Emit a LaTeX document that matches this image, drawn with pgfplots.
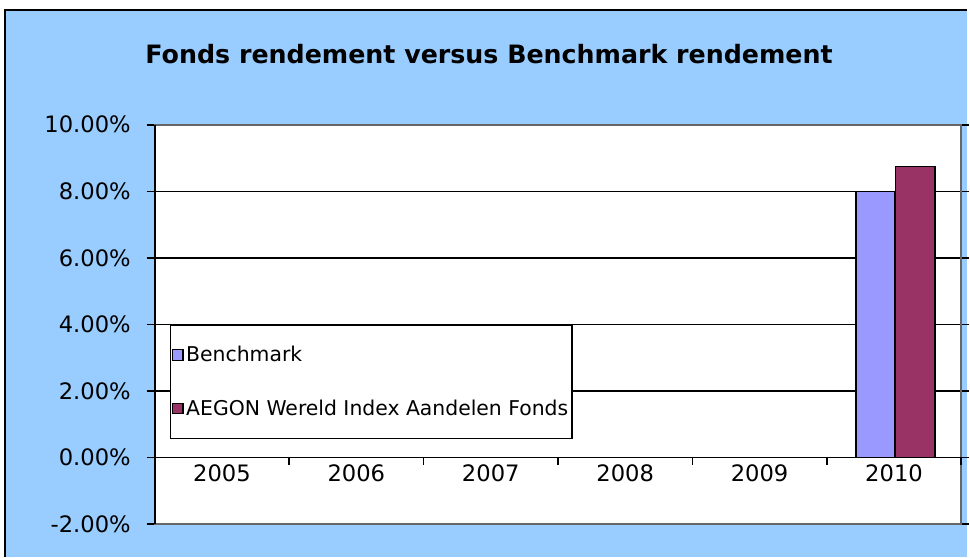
\documentclass[border=0pt]{standalone}
\usepackage{pgfplots}
\pgfplotsset{compat=1.18}
\usepackage{fontspec}
\setmainfont{DejaVu Sans}
\definecolor{bgblue}{HTML}{99CCFF}
\definecolor{bench}{HTML}{9999FF}
\definecolor{aegon}{HTML}{993366}
\begin{document}
\begin{tikzpicture}[x=0.75pt,y=0.75pt]
\fill[white] (0,0) rectangle (970,558);
\fill[bgblue] (5,0) rectangle (969,548);
\draw[black,line width=1.5pt] (5.5,0) -- (5.5,548) -- (969,548);
\node[font=\fontsize{19}{23}\selectfont\bfseries] at (490,504) {Fonds rendement versus Benchmark rendement};
\begin{axis}[
  at={(116.25pt,24.75pt)}, anchor=south west,
  scale only axis, width=606pt, height=300pt,
  xmin=-0.5, xmax=5.5, ymin=-2, ymax=10,
  axis background/.style={fill=white},
  axis line style={draw=gray!80!black, line width=1.3pt},
  ytick={-2,0,2,4,6,8,10},
  yticklabel={\pgfmathprintnumber[fixed,fixed zerofill,precision=2]{\tick}\%},
  /pgf/number format/assume math mode=true,
  ytick style={black, line width=1.2pt},
  tick align=outside, major tick length=6pt,
  ymajorgrids, grid style={black, line width=1.2pt},
  xtick={0,1,2,3,4,5},
  xticklabels={2005,2006,2007,2008,2009,2010},
  xtick style={draw=none},
  xticklabel style={anchor=center, yshift=44pt},
  ticklabel style={font=\fontsize{17}{20}\selectfont},
  yticklabel style={xshift=-8.5pt},
  ybar=0pt, bar width=29pt,
  legend style={at={(0.0186,0.5)}, anchor=north west, draw=black, line width=1.2pt, fill=white,
    font=\fontsize{15.3}{18}\selectfont, inner xsep=1pt, inner ysep=14pt, row sep=23pt},
  legend cell align=left,
  legend image code/.code={\draw[#1,draw=black,line width=0.8pt] (0pt,-4pt) rectangle (8pt,4pt);},
  clip=false,
]
\addplot[fill=bench, draw=black, line width=1.2pt, bar shift=-14pt] coordinates {(5,8.0)};
\addlegendentry{Benchmark}
\addplot[fill=aegon, draw=black, line width=1.2pt, bar shift=16pt, bar width=30pt] coordinates {(5,8.74)};
\addlegendentry{AEGON Wereld Index Aandelen Fonds}
\draw[black, line width=1.3pt] (rel axis cs:0,0) -- (rel axis cs:0,1);
\draw[black, line width=1.2pt] (axis cs:-0.5,0) -- (axis cs:5.5,0);
\pgfplotsinvokeforeach{0.5,1.5,2.5,3.5,4.5,5.5}{
  \draw[black, line width=1.2pt] (axis cs:#1,0) -- ([yshift=-6pt]axis cs:#1,0);
}
\end{axis}
\end{tikzpicture}
\end{document}
